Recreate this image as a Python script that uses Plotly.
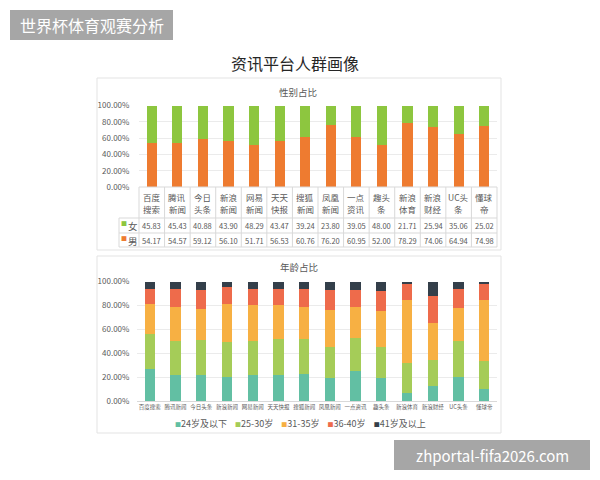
import plotly.graph_objects as go

# ---------------- data ----------------
platforms = ["百度搜索", "腾讯新闻", "今日头条", "新浪新闻", "网易新闻", "天天快报", "搜狐新闻",
             "凤凰新闻", "一点资讯", "趣头条", "新浪体育", "新浪财经", "UC头条", "懂球帝"]
platform_rows = [("百度", "搜索"), ("腾讯", "新闻"), ("今日", "头条"), ("新浪", "新闻"), ("网易", "新闻"),
                 ("天天", "快报"), ("搜狐", "新闻"), ("凤凰", "新闻"), ("一点", "资讯"), ("趣头", "条"),
                 ("新浪", "体育"), ("新浪", "财经"), ("UC头", "条"), ("懂球", "帝")]
female = [45.83, 45.43, 40.88, 43.90, 48.29, 43.47, 39.24, 23.80, 39.05, 48.00, 21.71, 25.94, 35.06, 25.02]
male = [54.17, 54.57, 59.12, 56.10, 51.71, 56.53, 60.76, 76.20, 60.95, 52.00, 78.29, 74.06, 64.94, 74.98]

age_groups = ["24岁及以下", "25-30岁", "31-35岁", "36-40岁", "41岁及以上"]
age_u24 = [27, 22, 22, 20.5, 21.5, 22, 23, 19, 25, 19, 7, 12.5, 20, 10]
age_25_30 = [29, 28, 29, 28.5, 28.5, 30, 29, 26, 27.5, 26.5, 24.5, 21.5, 30, 23.5]
age_31_35 = [25, 29, 26, 32, 30, 28, 27, 31, 26.5, 29.5, 53, 31, 27.5, 51]
age_36_40 = [13, 15, 16, 14, 14, 14, 15, 17, 14, 17, 13.5, 23, 16.5, 14]
age_41p = [6, 6, 7, 5, 6, 6, 6, 7, 7, 8, 2, 12, 6, 1.5]

y_ticks = [0, 20, 40, 60, 80, 100]
y_tick_text = ["0.00%", "20.00%", "40.00%", "60.00%", "80.00%", "100.00%"]

# ---------------- styling ----------------
W, H = 600, 480
OFF = 8  # the page's body margin shifts the figure by this many pixels
FONT = "Noto Sans CJK SC"
GRAY = "#595959"
LINE = "#D9D9D9"
C_F, C_M = "#8DC63F", "#EE7B30"
AGE_COLORS = ["#62BFA3", "#A5CC58", "#F7B043", "#EE6B4B", "#343F4A"]


def fx(px):
    return (px - OFF) / W


def fy(py):
    return 1 - (py - OFF) / H


fig = go.Figure()

# gender chart
fig.add_trace(go.Bar(x=platforms, y=male, name="男", marker_color=C_M, xaxis="x", yaxis="y",
                     showlegend=False))
fig.add_trace(go.Bar(x=platforms, y=female, name="女", marker_color=C_F, xaxis="x", yaxis="y",
                     showlegend=False))

# age chart
for name, vals, col in zip(age_groups, [age_u24, age_25_30, age_31_35, age_36_40, age_41p], AGE_COLORS):
    fig.add_trace(go.Bar(x=platforms, y=vals, name=name, marker_color=col, xaxis="x2", yaxis="y2",
                         showlegend=False))

ann = []
shapes = []


def text(t, x, y, size, color=GRAY, xref="paper", xanchor="center"):
    ann.append(dict(text=t, x=x, y=y, xref=xref, yref="paper", showarrow=False,
                    xanchor=xanchor, yanchor="middle", font=dict(family=FONT, size=size, color=color)))


# header box & watermark
shapes.append(dict(type="rect", xref="paper", yref="paper", x0=fx(10), x1=fx(173), y0=fy(10), y1=fy(40),
                   fillcolor="#A6A6A6", line_width=0, layer="below"))
text("世界杯体育观赛分析", fx(91.5), fy(25), 16, "white")
shapes.append(dict(type="rect", xref="paper", yref="paper", x0=fx(394), x1=fx(590), y0=fy(440), y1=fy(470),
                   fillcolor="#A6A6A6", line_width=0, layer="below"))
text("zhportal-fifa2026.com", fx(492), fy(455), 15, "white")

# main title
text("资讯平台人群画像", fx(295), fy(63), 16, "#262626")

# panel borders
for y0, y1 in [(78, 250), (256, 433)]:
    shapes.append(dict(type="rect", xref="paper", yref="paper", x0=fx(97), x1=fx(501), y0=fy(y0), y1=fy(y1),
                       line=dict(color="#E3E3E3", width=1), fillcolor="rgba(0,0,0,0)", layer="below"))

# panel titles
text("性别占比", fx(298), fy(92), 9.5)
text("年龄占比", fx(299), fy(267), 9.5)

# data table under gender chart
for i, (a, b) in enumerate(platform_rows):
    text(a, platforms[i], fy(197), 8.5, xref="x")
    text(b, platforms[i], fy(209), 8.5, xref="x")
    text(f"{female[i]:.2f}", platforms[i], fy(225.5), 7.5, xref="x")
    text(f"{male[i]:.2f}", platforms[i], fy(240.5), 7.5, xref="x")

for label, col, py in [("女", C_F, 225.5), ("男", C_M, 240.5)]:
    text("■", fx(124), fy(py - 1.5), 6, col)
    text(label, fx(133), fy(py), 9.5)

# table grid
for k in range(len(platforms) + 1):
    xk = fx(139 + k * (497 - 139) / 14)
    shapes.append(dict(type="line", xref="paper", yref="paper", x0=xk, x1=xk,
                       y0=fy(187), y1=fy(247), line=dict(color=LINE, width=1)))
shapes.append(dict(type="line", xref="paper", yref="paper", x0=fx(119), x1=fx(119), y0=fy(218), y1=fy(247),
                   line=dict(color=LINE, width=1)))
shapes.append(dict(type="line", xref="paper", yref="paper", x0=fx(139), x1=fx(497), y0=fy(187), y1=fy(187),
                   line=dict(color=LINE, width=1)))
for py in [218, 233, 247]:
    shapes.append(dict(type="line", xref="paper", yref="paper", x0=fx(119), x1=fx(497), y0=fy(py), y1=fy(py),
                       line=dict(color=LINE, width=1)))

# legend of the age chart (as one line of coloured glyphs and labels)
legend_html = "&nbsp;&nbsp;&nbsp;&nbsp;".join(
    f"<span style='color:{c};font-size:6px'>■</span>{n}" for n, c in zip(age_groups, AGE_COLORS))
text(legend_html, fx(300), fy(423), 9)

fig.update_layout(
    template="none",
    width=W, height=H, margin=dict(l=0, r=0, t=0, b=0, pad=0), autosize=False,
    paper_bgcolor="white", plot_bgcolor="white",
    barmode="stack", bargap=0.6, showlegend=False,
    font=dict(family=FONT, color=GRAY),
    xaxis=dict(domain=[fx(139), fx(497)], range=[-0.5, 13.5], showticklabels=False, showgrid=False,
               zeroline=False, showline=False, anchor="y", automargin=False),
    yaxis=dict(domain=[fy(187), fy(105.5)], range=[0, 100], tickvals=y_ticks, ticktext=y_tick_text,
               tickfont=dict(size=8, color=GRAY, family=FONT), showgrid=True,
               ticks="outside", ticklen=7, tickcolor="rgba(0,0,0,0)",
               gridcolor="#EBEBEB", zeroline=False, showline=False, anchor="x", automargin=False),
    xaxis2=dict(domain=[fx(137), fx(497)], range=[-0.5, 13.5], tickfont=dict(size=5.5, color=GRAY, family=FONT),
                tickangle=0, showgrid=False, zeroline=False, showline=True, linecolor=LINE, ticks="",
                anchor="y2", automargin=False),
    yaxis2=dict(domain=[fy(401), fy(281.5)], range=[0, 100], tickvals=y_ticks, ticktext=y_tick_text,
                tickfont=dict(size=8, color=GRAY, family=FONT), showgrid=True,
                ticks="outside", ticklen=5, tickcolor="rgba(0,0,0,0)",
                gridcolor="#EBEBEB", zeroline=False, showline=False, anchor="x2", automargin=False),
    annotations=ann, shapes=shapes,
)

fig.write_html("out.html")
